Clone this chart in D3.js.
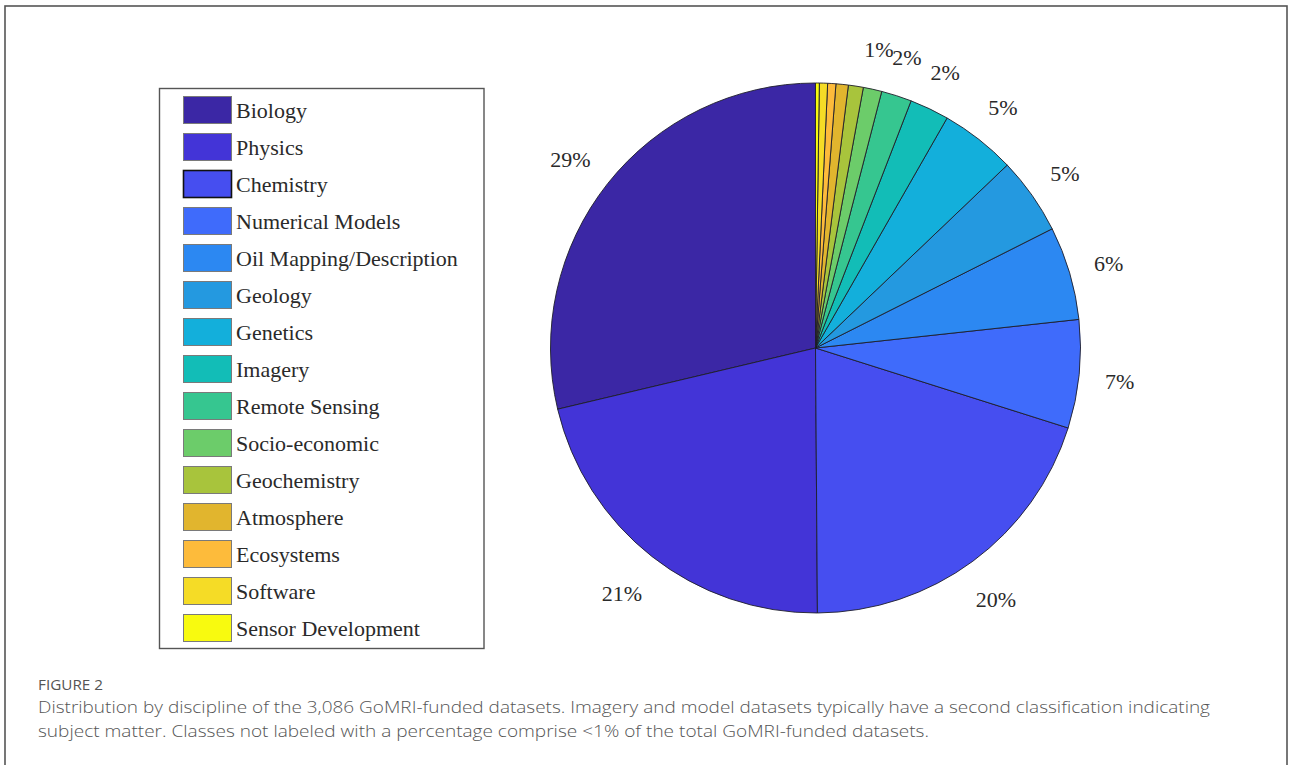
<!DOCTYPE html>
<html>
<head>
<meta charset="utf-8">
<script src="https://cdn.jsdelivr.net/npm/d3@7"></script>
<style>
  html, body { margin: 0; padding: 0; background: #fff; }
  svg { display: block; }
</style>
</head>
<body>
<svg id="chart" width="1290" height="765"></svg>
<script>
const categories = ["Biology", "Physics", "Chemistry", "Numerical Models", "Oil Mapping/Description",
  "Geology", "Genetics", "Imagery", "Remote Sensing", "Socio-economic", "Geochemistry",
  "Atmosphere", "Ecosystems", "Software", "Sensor Development"];
const shares = [28.7, 21.4, 20.0, 6.6, 5.7, 4.7, 4.6, 2.4, 1.85, 1.13, 0.91, 0.75, 0.5, 0.5, 0.23];
const sliceLabels = ["29%", "21%", "20%", "7%", "6%", "5%", "5%", "2%", "2%", "1%", "", "", "", "", ""];
const colors = ["#3b27a5", "#4334d7", "#464ef0", "#3f6bfb", "#2c88f2", "#2499e0", "#13afdb",
  "#12bdb7", "#36c690", "#6ccc6a", "#a8c43c", "#e1b52e", "#fdbb3b", "#f5dc26", "#f8fa0f"];
const captionTitle = "FIGURE 2";
const captionLines = [
  "Distribution by discipline of the 3,086 GoMRI-funded datasets. Imagery and model datasets typically have a second classification indicating",
  "subject matter. Classes not labeled with a percentage comprise <1% of the total GoMRI-funded datasets."
];

const svg = d3.select("#chart");

// outer frame
svg.append("rect")
  .attr("x", 5).attr("y", 6).attr("width", 1282).attr("height", 820)
  .attr("fill", "none").attr("stroke", "#555").attr("stroke-width", 1.6);

// pie
const cx = 815.5, cy = 348, r = 265;
const g = svg.append("g").attr("transform", `translate(${cx},${cy})`);
const pie = d3.pie().sort(null).value(d => d.v).startAngle(0).endAngle(-2 * Math.PI);
const data = categories.map((c, i) => ({ c, v: shares[i], color: colors[i], label: sliceLabels[i] }));
const arcs = pie(data);
const arc = d3.arc().innerRadius(0).outerRadius(r);

g.selectAll("path.slice").data(arcs).join("path")
  .attr("class", "slice")
  .attr("d", arc)
  .attr("fill", d => d.data.color)
  .attr("stroke", "#1e1e2a")
  .attr("stroke-width", 0.9)
  .attr("stroke-linejoin", "round");

const labelR = r * 1.165;
g.selectAll("text.pct").data(arcs.filter(d => d.data.label)).join("text")
  .attr("class", "pct")
  .attr("x", d => labelR * Math.sin((d.startAngle + d.endAngle) / 2) - 3)
  .attr("y", d => -labelR * Math.cos((d.startAngle + d.endAngle) / 2) + 3)
  .attr("text-anchor", "middle")
  .attr("dominant-baseline", "central")
  .attr("font-family", "'Liberation Serif', 'Times New Roman', serif")
  .attr("font-size", 22)
  .attr("fill", "#2a2a2a")
  .text(d => d.data.label);

// legend
const legend = svg.append("g");
legend.append("rect")
  .attr("x", 159.5).attr("y", 88.5).attr("width", 324.5).attr("height", 560)
  .attr("fill", "#fff").attr("stroke", "#555").attr("stroke-width", 1.4);

const rowY = d3.scaleBand().domain(categories).range([91.5, 91.5 + 37 * categories.length]);
const items = legend.selectAll("g.item").data(data).join("g").attr("class", "item")
  .attr("transform", d => `translate(0,${rowY(d.c) + rowY.bandwidth() / 2})`);
items.append("rect")
  .attr("x", 183.5).attr("y", -13.5).attr("width", 48).attr("height", 27)
  .attr("fill", d => d.color)
  .attr("stroke", d => d.c === "Chemistry" ? "#111" : "#7a7a7a")
  .attr("stroke-width", d => d.c === "Chemistry" ? 1.6 : 1);
items.append("text")
  .attr("x", 236).attr("y", 0)
  .attr("dominant-baseline", "central")
  .attr("font-family", "'Liberation Serif', 'Times New Roman', serif")
  .attr("font-size", 22)
  .attr("fill", "#2a2a2a")
  .text(d => d.c);

// caption
svg.append("text")
  .attr("x", 38).attr("y", 690)
  .attr("font-family", "'Open Sans', sans-serif")
  .attr("font-size", 14.5)
  .attr("font-weight", 400)
  .attr("fill", "#555")
  .attr("textLength", 65)
  .attr("lengthAdjust", "spacingAndGlyphs")
  .text(captionTitle);

const capWidths = [1172, 891];
svg.selectAll("text.cap").data(captionLines).join("text")
  .attr("class", "cap")
  .attr("x", 38)
  .attr("y", (d, i) => 713 + i * 24)
  .attr("font-family", "'Open Sans', sans-serif")
  .attr("font-size", 17)
  .attr("font-weight", 300)
  .attr("fill", "#555")
  .attr("textLength", (d, i) => capWidths[i])
  .attr("lengthAdjust", "spacingAndGlyphs")
  .text(d => d);
</script>
</body>
</html>
